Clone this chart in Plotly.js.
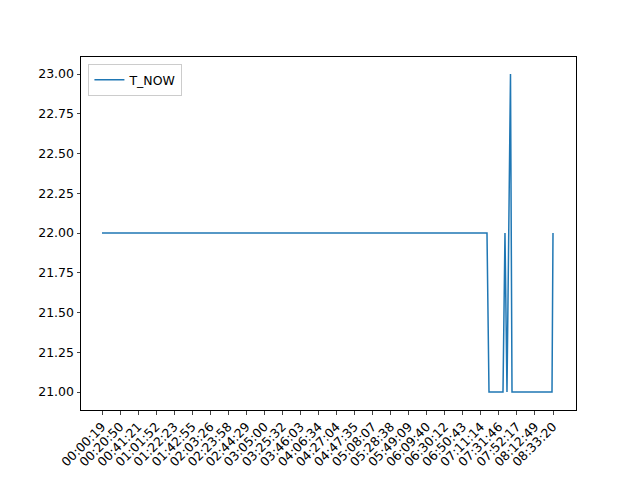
<!DOCTYPE html>
<html>
<head>
<script src="https://cdn.plot.ly/plotly-3.0.1.min.js"></script>
<style>body{margin:0}</style>
</head>
<body>
<div id="chart" style="width:640px;height:480px"></div>
<script>
// sample times where T_NOW changes, and the value there
const sampleTimes = ['00:00:19', '07:18:15', '07:20:32', '07:36:27', '07:38:43', '07:41:00', '07:44:59', '07:46:42', '08:32:12', '08:33:20']
const tNow = [22, 22, 21, 21, 22, 21, 23, 21, 21, 22]
const tickLabels = ['00:00:19', '00:20:50', '00:41:21', '01:01:52', '01:22:23', '01:42:55', '02:03:26', '02:23:58', '02:44:29', '03:05:00', '03:25:32', '03:46:03', '04:06:34', '04:27:04', '04:47:35', '05:08:07', '05:28:38', '05:49:09', '06:09:40', '06:30:12', '06:50:43', '07:11:14', '07:31:46', '07:52:17', '08:12:49', '08:33:20']
const yTicks = [21.00, 21.25, 21.50, 21.75, 22.00, 22.25, 22.50, 22.75, 23.00]

function secs(t) {
	let [h, m, s] = t.split(':').map(Number)
	return h * 3600 + m * 60 + s
}

Plotly.newPlot('chart', [{
	x: sampleTimes.map(secs),
	y: tNow,
	type: 'scatter',
	mode: 'lines',
	line: {color: '#1f77b4', width: 1.5},
	name: 'T_NOW',
	showlegend: true,
}], {
	width: 640,
	height: 480,
	margin: {l: 81, r: 64, t: 57, b: 70},
	paper_bgcolor: 'white',
	plot_bgcolor: 'white',
	font: {family: 'DejaVu Sans', size: 12.5, color: 'black'},
	xaxis: {
		range: [-1414, 32370],
		tickvals: tickLabels.map(secs),
		ticktext: tickLabels,
		tickangle: -45,
		ticks: 'outside',
		ticklen: 3.5,
		showgrid: false,
		zeroline: false,
		showline: true,
		mirror: true,
		linecolor: 'black',
		linewidth: 1,
	},
	yaxis: {
		range: [20.887, 23.107],
		tickvals: yTicks,
		ticktext: yTicks.map(v => v.toFixed(2)),
		ticks: 'outside',
		ticklen: 3.5,
		showgrid: false,
		zeroline: false,
		showline: true,
		mirror: true,
		linecolor: 'black',
		linewidth: 1,
	},
	legend: {
		x: 0.015, y: 0.98, xanchor: 'left', yanchor: 'top',
		bordercolor: '#cccccc', borderwidth: 1,
		font: {size: 12.5},
	},
}, {staticPlot: true})
</script>
</body>
</html>
